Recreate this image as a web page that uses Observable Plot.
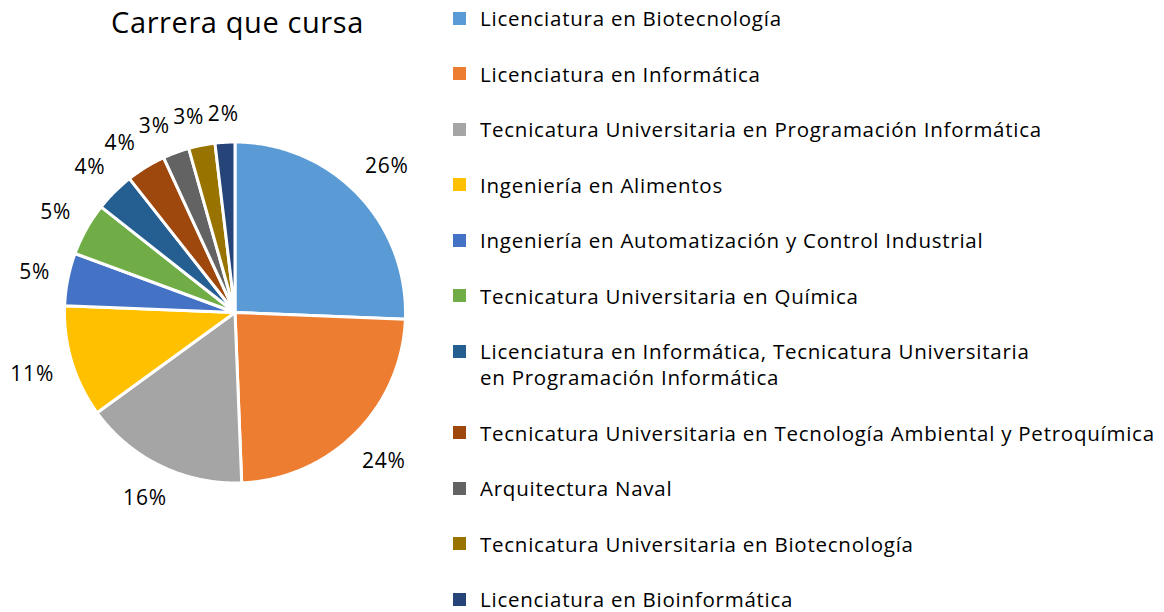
<!DOCTYPE html>
<html><head><meta charset="utf-8">
<script src="https://cdn.jsdelivr.net/npm/d3@7"></script>
<script src="https://cdn.jsdelivr.net/npm/@observablehq/plot@0.6"></script>
<style>
body{margin:0;background:#fff;font-family:"Open Sans",sans-serif;color:#000;}
#wrap{position:relative;width:1164px;height:612px;overflow:hidden;}
#chart{position:absolute;left:0;top:0;}
#chart text{letter-spacing:0.8px;}
#title{position:absolute;left:0;width:475px;top:4px;text-align:center;font-size:29px;line-height:36px;letter-spacing:0.6px;}
.row{position:absolute;left:453px;}
.sw{position:absolute;left:0;width:13px;height:13px;top:6.5px;}
.lb{position:absolute;left:27px;top:0;font-size:20.5px;line-height:26px;white-space:pre;letter-spacing:0.75px;}
</style>
</head><body>
<div id="wrap"><div id="chart"></div><div id="title">Carrera que cursa</div><div id="legend"></div></div>
<script>
const categories = [
  "Licenciatura en Biotecnología",
  "Licenciatura en Informática",
  "Tecnicatura Universitaria en Programación Informática",
  "Ingeniería en Alimentos",
  "Ingeniería en Automatización y Control Industrial",
  "Tecnicatura Universitaria en Química",
  "Licenciatura en Informática, Tecnicatura Universitaria\nen Programación Informática",
  "Tecnicatura Universitaria en Tecnología Ambiental y Petroquímica",
  "Arquitectura Naval",
  "Tecnicatura Universitaria en Biotecnología",
  "Licenciatura en Bioinformática"
];
const counts = [41, 38, 25, 17, 8, 8, 6, 6, 4, 4, 3];
const colors = ["#5B9BD5","#ED7D31","#A5A5A5","#FFC000","#4472C4","#70AD47","#255E91","#9E480E","#636363","#997300","#264478"];

const total = d3.sum(counts);
const arcs = d3.pie().sort(null).value(d => d)(counts);
const pts = [];
arcs.forEach((a, i) => {
  const cat = categories[i];
  pts.push({cat, x: 0, y: 0});
  const n = Math.max(2, Math.ceil((a.endAngle - a.startAngle) / (Math.PI / 360)));
  for (let k = 0; k <= n; k++) {
    const t = a.startAngle + (a.endAngle - a.startAngle) * k / n;
    pts.push({cat, x: Math.sin(t), y: Math.cos(t)});
  }
  pts.push({cat, x: 0, y: 0});
});

// label placement outside each slice, with a simple counter-clockwise nudge to avoid overlaps
const R = 170.5, pad = 17, hh = 10, gap = 4;
function place(t, txt) {
  const hw = txt.length * 7.5;
  const d = R + pad + Math.abs(Math.sin(t)) * hw + Math.abs(Math.cos(t)) * hh;
  return {t, text: txt, hw, px: Math.sin(t) * d, py: -Math.cos(t) * d};
}
const labels = arcs.map((a, i) => place((a.startAngle + a.endAngle) / 2,
  Math.round(counts[i] / total * 100) + "%"));
function overlap(a, b) {
  return Math.abs(a.px - b.px) < a.hw + b.hw + gap && Math.abs(a.py - b.py) < 2 * hh + 2;
}
for (let i = labels.length - 2; i >= 0; i--) {
  let L = labels[i], k = 0;
  while (overlap(L, labels[i + 1]) && k++ < 200) L = place(L.t - 0.004, L.text);
  labels[i] = L;
}
labels.forEach(L => { L.x = L.px / R; L.y = -L.py / R; });

const chart = Plot.plot({
  width: 480, height: 612,
  marginLeft: 64, marginRight: 75, marginTop: 141.5, marginBottom: 129.5,
  x: {domain: [-1, 1], axis: null},
  y: {domain: [-1, 1], axis: null},
  color: {domain: categories, range: colors},
  style: {fontFamily: "Open Sans", background: "transparent", overflow: "visible"},
  marks: [
    Plot.line(pts, {x: "x", y: "y", z: "cat", fill: "cat", stroke: "white", strokeWidth: 3, strokeLinejoin: "round"}),
    Plot.text(labels, {x: "x", y: "y", text: "text", fontSize: 21, fill: "#000"})
  ]
});
document.getElementById("chart").appendChild(chart);

const legend = document.getElementById("legend");
let yc = 18;
categories.forEach((c, i) => {
  const lines = c.split("\n").length;
  const row = document.createElement("div");
  row.className = "row";
  row.style.top = (yc - 13) + "px";
  row.innerHTML = `<div class="sw" style="background:${colors[i]}"></div><div class="lb"></div>`;
  row.querySelector(".lb").textContent = c;
  legend.appendChild(row);
  yc += 55.5 + (lines - 1) * 26;
});
</script>
</body></html>
